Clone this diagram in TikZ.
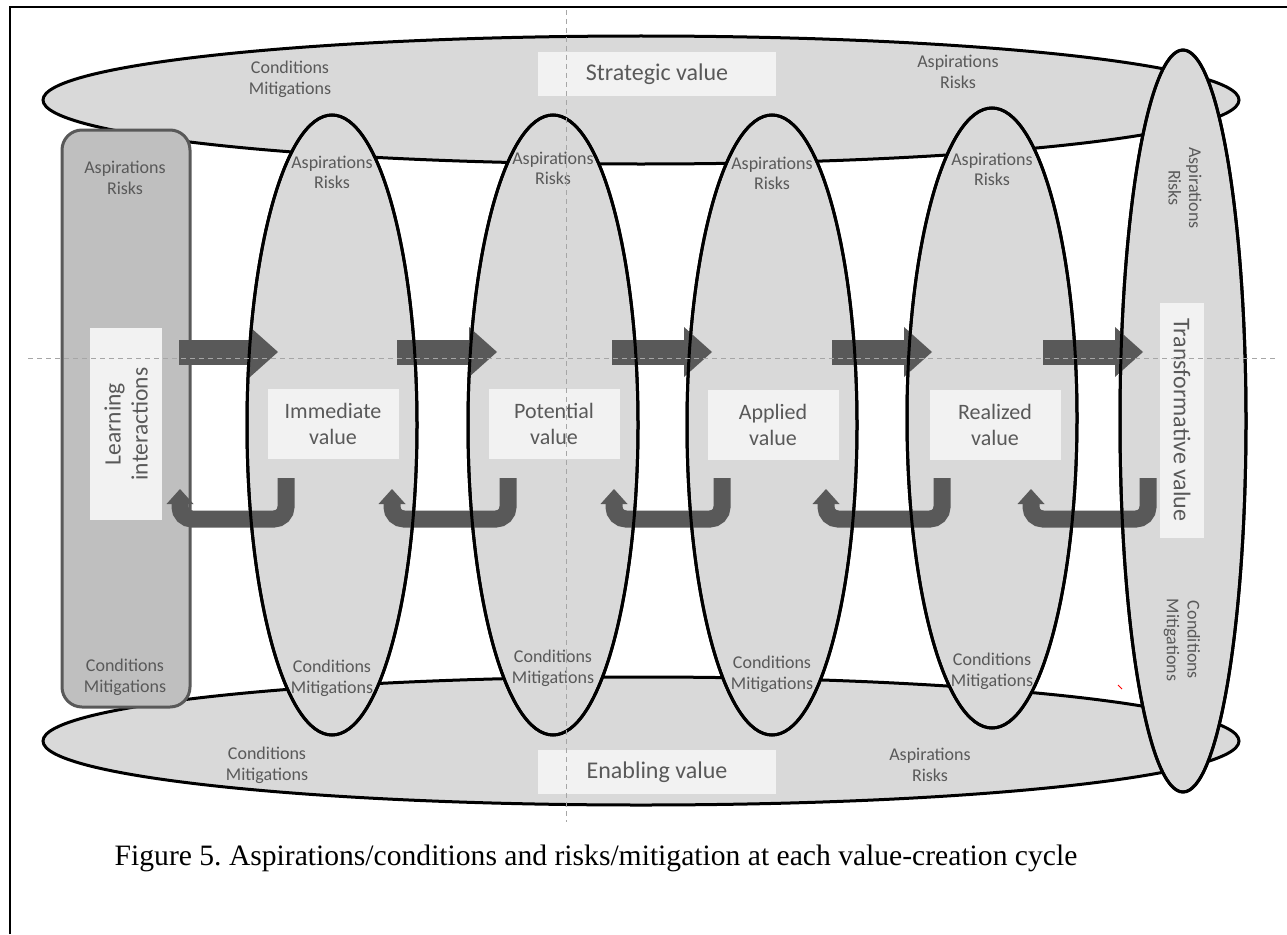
\documentclass[tikz,border=0pt]{standalone}
\usepackage{fontspec}
\setmainfont{Carlito}
\newfontfamily\capfont{Liberation Serif}
\usepackage{xcolor}
\usetikzlibrary{arrows.meta,shapes.geometric,positioning}
\frenchspacing

\definecolor{band}{HTML}{D9D9D9}
\definecolor{slab}{HTML}{BFBFBF}
\definecolor{tag}{HTML}{F2F2F2}
\definecolor{ink}{HTML}{595959}
\definecolor{guide}{HTML}{A6A6A6}

\tikzset{
  hband/.style={ellipse,draw=black,fill=band,line width=3pt,inner sep=0pt,
    minimum width=1196pt,minimum height=128pt},
  vring/.style={ellipse,draw=black,fill=band,line width=3pt,inner sep=0pt,
    minimum width=170pt,minimum height=620pt},
  rim/.style={draw=black,line width=3pt},
  slab_box/.style={draw=ink,fill=slab,line width=3pt,rounded corners=20pt,
    minimum width=128pt,minimum height=577pt},
  tag_box/.style={fill=tag,inner sep=0pt,align=center,text=ink,
    minimum width=131pt,minimum height=70pt,font=\fontsize{22}{26.7}\selectfont},
  note/.style={inner sep=0pt,align=center,text=ink,font=\fontsize{18}{20.7}\selectfont},
  fwd/.style={draw=ink,line width=25pt,-{Triangle[length=28pt,width=50pt,line width=0pt]}},
  back/.style={draw=ink,line width=17pt,rounded corners=12pt,
    -{Triangle[length=15pt,width=27pt,line width=0pt]}},
  guide_line/.style={draw=guide,line width=1pt,dash pattern=on 5pt off 4pt},
}

\begin{document}
\begin{tikzpicture}[x=1pt,y=-1pt]
  \useasboundingbox (0,0) rectangle (1287,934);
  % page frame
  \draw[line width=2pt] (10,934) -- (10,7) -- (1287,7);

  % strategic / enabling bands
  \node[hband] (strat) at (641,100) {};
  \node[hband] (enab) at (641,741) {};

  % value cycles
  \node[vring] (imm) at (332,425) {};
  \node[vring] (pot) at (553,425) {};
  \node[vring] (app) at (772,425) {};
  \node[vring] (rea) at (992,418) {};
  \node[vring,minimum width=126pt,minimum height=742pt] (trans) at (1183,421) {};
  \node[slab_box] (learn) at (126,418.5) {};

  % stage names
  \node[tag_box,rotate=90,minimum width=192pt,minimum height=72pt,
    font=\fontsize{23.5}{27}\selectfont] (learn_tag) at (126,424) {Learning\\interactions};
  \node[tag_box] (imm_tag) at (333,424) {Immediate\\value};
  \node[tag_box] (pot_tag) at (554,424) {Potential\\value};
  \node[tag_box] (app_tag) at (773,425) {Applied\\value};
  \node[tag_box] (rea_tag) at (995,425) {Realized\\value};
  \node[tag_box,rotate=-90,minimum width=235pt,minimum height=44pt,
    font=\fontsize{24}{28}\selectfont] (trans_tag) at (1182,420) {Transformative value};
  \node[tag_box,minimum width=238pt,minimum height=44pt,
    font=\fontsize{24}{28}\selectfont] (strat_tag) at (657,74) {Strategic value};
  \node[tag_box,minimum width=238pt,minimum height=44pt,
    font=\fontsize{24}{28}\selectfont] (enab_tag) at (657,772) {Enabling value};

  % aspirations / conditions
  \node[note] (strat_cm) at (290,79) {Conditions\\Mitigations};
  \node[note] (strat_ar) at (958,72) {Aspirations\\Risks};
  \node[note] (enab_cm) at (267,765) {Conditions\\Mitigations};
  \node[note] (enab_ar) at (930,765) {Aspirations\\Risks};
  \node[note] (learn_ar) at (125,178) {Aspirations\\Risks};
  \node[note] (learn_cm) at (125,677) {Conditions\\Mitigations};
  \node[note,below=42pt of imm.north] (imm_ar) {Aspirations\\Risks};
  \node[note,above=40pt of imm.south] (imm_cm) {Conditions\\Mitigations};
  \node[note,below=38pt of pot.north] (pot_ar) {Aspirations\\Risks};
  \node[note,above=50pt of pot.south] (pot_cm) {Conditions\\Mitigations};
  \node[note,below=43pt of app.north] (app_ar) {Aspirations\\Risks};
  \node[note,above=44pt of app.south] (app_cm) {Conditions\\Mitigations};
  \node[note,below=46pt of rea.north] (rea_ar) {Aspirations\\Risks};
  \node[note,above=40pt of rea.south] (rea_cm) {Conditions\\Mitigations};
  \node[note,rotate=-90] (trans_ar) at (1185,188) {Aspirations\\Risks};
  \node[note,rotate=-90] (trans_cm) at (1182,640) {Conditions\\Mitigations};

  % forward steps
  \coordinate (go1) at (179,352);  \coordinate (to1) at (278,352);
  \coordinate (go2) at (397,352);  \coordinate (to2) at (497,352);
  \coordinate (go3) at (612,352);  \coordinate (to3) at (712,352);
  \coordinate (go4) at (832,352);  \coordinate (to4) at (932,352);
  \coordinate (go5) at (1043,352); \coordinate (to5) at (1143,352);
  \draw[fwd] (go1) -- (to1);
  \draw[fwd] (go2) -- (to2);
  \draw[fwd] (go3) -- (to3);
  \draw[fwd] (go4) -- (to4);
  \draw[fwd] (go5) -- (to5);

  % feedback loops
  \coordinate (up1) at (286,478);  \coordinate (tip1) at (180,489);
  \coordinate (up2) at (508,478);  \coordinate (tip2) at (392,489);
  \coordinate (up3) at (722,478);  \coordinate (tip3) at (614,489);
  \coordinate (up4) at (942,478);  \coordinate (tip4) at (826,489);
  \coordinate (up5) at (1148,478); \coordinate (tip5) at (1031,489);
  \draw[back] (up1) -- ++(0,41) -| (tip1);
  \draw[back] (up2) -- ++(0,41) -| (tip2);
  \draw[back] (up3) -- ++(0,41) -| (tip3);
  \draw[back] (up4) -- ++(0,41) -| (tip4);
  \draw[back] (up5) -- ++(0,41) -| (tip5);

  % ring outlines over the arrows
  \draw[rim] (imm.center) ellipse [x radius=85,y radius=310];
  \draw[rim] (pot.center) ellipse [x radius=85,y radius=310];
  \draw[rim] (app.center) ellipse [x radius=85,y radius=310];
  \draw[rim] (rea.center) ellipse [x radius=85,y radius=310];
  \draw[rim] (trans.center) ellipse [x radius=63,y radius=371];

  % guides
  \coordinate (gl) at (28,358);  \coordinate (gr) at (1275,358);
  \coordinate (gt) at (566,10);  \coordinate (gb) at (566,822);
  \draw[guide_line] (gl) -- (gr);
  \draw[guide_line] (gt) -- (gb);
  \draw[red,line width=1pt] (1118,685) -- (1122,689);

  \node[font=\capfont\fontsize{29.6}{34}\selectfont] (cap) at (596,858)
    {Figure 5. Aspirations/conditions and risks/mitigation at each value-creation cycle};
\end{tikzpicture}
\end{document}
